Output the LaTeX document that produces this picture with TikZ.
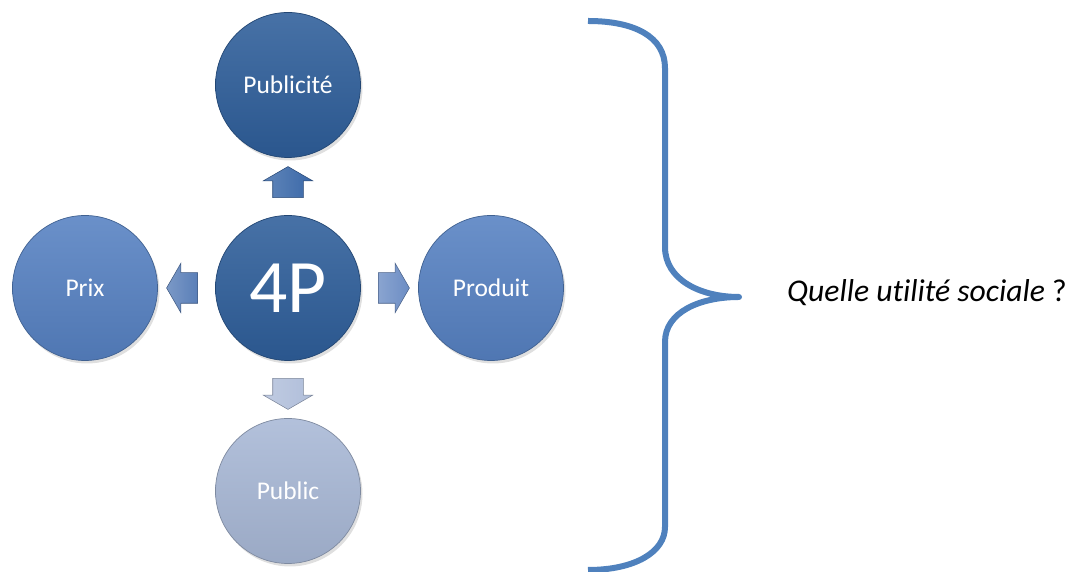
\documentclass[tikz,border=0pt]{standalone}
\usepackage{fontspec}
\setmainfont{Carlito}[Ligatures={NoCommon}]
\usepackage{tikz}
\usetikzlibrary{positioning,shapes.arrows,shadows}

\definecolor{darkblue}{RGB}{46,94,154}
\definecolor{midblue}{RGB}{86,129,194}
\definecolor{paleblue}{RGB}{168,184,214}
\definecolor{arrowup}{RGB}{58,104,168}
\definecolor{arrowleft}{RGB}{90,127,184}
\definecolor{arrowright}{RGB}{108,141,196}
\definecolor{arrowdown}{RGB}{176,190,218}
\definecolor{bracecol}{RGB}{79,129,189}

\tikzset{
  pcircle/.style={circle, minimum size=2.9cm, inner sep=0pt, outer sep=0pt,
    text=white, font=\fontsize{14.5}{17}\selectfont,
    draw=#1!75!black, line width=0.4pt,
    top color=#1!88!white, bottom color=#1!92!black,
    drop shadow={opacity=0.25, shadow xshift=0.4mm, shadow yshift=-0.6mm}},
  parrow/.style={single arrow, minimum height=0.62cm,
    single arrow head extend=0.19cm, single arrow tip angle=120,
    inner xsep=0pt, inner ysep=0.3cm, outer sep=0pt, draw=#1!70!black, line width=0.3pt,
    left color=#1!80!white, right color=#1, sloped, allow upside down}
}

\begin{document}
\begin{tikzpicture}
    \useasboundingbox (0,0) rectangle (21.78,11.44);
    % the 4P and its four circles
    \node[pcircle=darkblue, font=\fontsize{43}{46}\selectfont] (pp) at (5.76,5.68) {4P};
    \node[pcircle=darkblue, above=1.16cm of pp] (publicite) {Publicité};
    \node[pcircle=midblue, left=1.16cm of pp] (prix) {Prix};
    \node[pcircle=midblue, right=1.16cm of pp] (produit) {Produit};
    \node[pcircle=paleblue, below=1.16cm of pp] (public) {Public};

    \path (pp) -- node[parrow=arrowup] {} (publicite);
    \path (pp) -- node[parrow=arrowleft] {} (prix);
    \path (pp) -- node[parrow=arrowright] {} (produit);
    \path (pp) -- node[parrow=arrowdown] {} (public);

    % brace
    \draw[bracecol, line width=0.12cm, line join=round]
      (11.76,11.02) .. controls (12.7,11.02) and (13.30,10.7) .. (13.30,10.08)
      -- (13.30,6.50) .. controls (13.30,5.85) and (14.0,5.5) .. (14.78,5.50)
      .. controls (14.0,5.5) and (13.30,5.2) .. (13.30,4.60)
      -- (13.30,0.90) .. controls (13.30,0.4) and (12.7,0.04) .. (11.76,0.04);

    \node[font=\fontsize{18}{21}\selectfont] (question) at (18.54,5.58) {\textit{Quelle utilité sociale} ?};
\end{tikzpicture}
\end{document}
